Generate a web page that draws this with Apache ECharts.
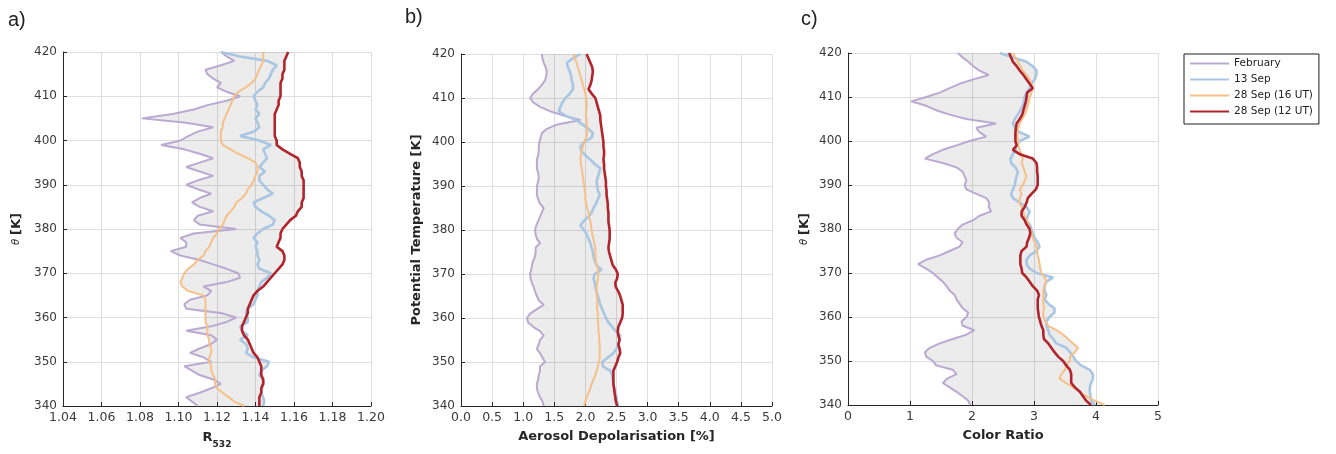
<!DOCTYPE html>
<html><head><meta charset="utf-8">
<script src="https://cdn.jsdelivr.net/npm/echarts@6/dist/echarts.min.js"></script>
<style>html,body{margin:0;padding:0;background:#fff}#c{width:1336px;height:454px}</style>
</head><body><div id="c"></div>
<script>
const theta = [340,341,342,343,344,345,346,347,348,349,
  350,351,352,353,354,355,356,357,358,359,
  360,361,362,363,364,365,366,367,368,369,
  370,371,372,373,374,375,376,377,378,379,
  380,381,382,383,384,385,386,387,388,389,
  390,391,392,393,394,395,396,397,398,399,
  400,401,402,403,404,405,406,407,408,409,
  410,411,412,413,414,415,416,417,418,419,420];

const seriesNames = ['February','13 Sep','28 Sep (16 UT)','28 Sep (12 UT)'];

// Panel a: R532
const aFeb = [1.110,1.107,1.104,1.111,1.117,1.122,1.118,1.111,1.107,1.103,
  1.117,1.113,1.106,1.111,1.117,1.120,1.117,1.104,1.117,1.125,
  1.130,1.122,1.104,1.103,1.106,1.115,1.117,1.113,1.125,1.132,
  1.131,1.125,1.118,1.111,1.101,1.096,1.104,1.104,1.101,1.108,
  1.130,1.111,1.108,1.110,1.118,1.111,1.107,1.111,1.117,1.110,
  1.104,1.110,1.118,1.111,1.104,1.111,1.118,1.111,1.103,1.091,
  1.101,1.105,1.110,1.118,1.104,1.081,1.097,1.108,1.115,1.125,
  1.132,1.125,1.120,1.122,1.118,1.115,1.114,1.122,1.129,1.125,1.122];
const aSep13 = [1.144,1.1445,1.144,1.143,1.143,1.144,1.144,1.142,1.143,1.146,
  1.147,1.139,1.135,1.136,1.135,1.132,1.136,1.133,1.132,1.136,
  1.136,1.135,1.136,1.139,1.140,1.141,1.141,1.142,1.143,1.146,
  1.148,1.142,1.141,1.142,1.141,1.141,1.140,1.141,1.139,1.141,
  1.144,1.149,1.150,1.147,1.143,1.140,1.139,1.144,1.149,1.146,
  1.144,1.142,1.142,1.145,1.142,1.144,1.146,1.145,1.144,1.148,
  1.142,1.132,1.139,1.142,1.141,1.140,1.142,1.140,1.141,1.140,
  1.139,1.141,1.144,1.145,1.147,1.148,1.149,1.151,1.146,1.132,1.122];
const aSep28a = [1.134,1.129,1.126,1.123,1.120,1.119,1.119,1.118,1.117,1.117,
  1.116,1.116,1.117,1.117,1.116,1.116,1.115,1.115,1.115,1.114,
  1.114,1.114,1.114,1.114,1.114,1.113,1.105,1.102,1.101,1.102,
  1.103,1.105,1.108,1.110,1.113,1.114,1.116,1.117,1.118,1.120,
  1.121,1.123,1.124,1.125,1.127,1.129,1.130,1.133,1.135,1.136,
  1.138,1.139,1.140,1.141,1.141,1.140,1.136,1.131,1.127,1.123,
  1.122,1.122,1.122,1.123,1.123,1.124,1.125,1.126,1.127,1.128,
  1.129,1.131,1.135,1.138,1.140,1.141,1.142,1.143,1.144,1.144,1.144];
const aSep28b = [1.142,1.142,1.142,1.143,1.143,1.144,1.144,1.143,1.143,1.143,
  1.142,1.141,1.139,1.138,1.137,1.136,1.134,1.133,1.133,1.134,
  1.135,1.136,1.136,1.137,1.138,1.139,1.141,1.144,1.146,1.148,
  1.150,1.152,1.154,1.155,1.155,1.154,1.151,1.152,1.153,1.153,
  1.154,1.156,1.158,1.161,1.162,1.164,1.164,1.165,1.165,1.165,
  1.165,1.165,1.164,1.164,1.163,1.163,1.162,1.158,1.154,1.151,
  1.151,1.150,1.150,1.150,1.150,1.150,1.150,1.151,1.152,1.152,
  1.153,1.153,1.153,1.153,1.154,1.154,1.155,1.155,1.155,1.156,1.157];

// Panel b: aerosol depolarisation [%]
const bFeb = [1.33,1.31,1.27,1.24,1.22,1.22,1.24,1.25,1.27,1.27,
  1.35,1.31,1.27,1.22,1.25,1.27,1.33,1.27,1.16,1.08,
  1.06,1.11,1.22,1.33,1.25,1.22,1.19,1.17,1.14,1.12,
  1.11,1.13,1.14,1.16,1.19,1.20,1.20,1.27,1.22,1.20,
  1.19,1.21,1.24,1.27,1.30,1.33,1.27,1.24,1.22,1.22,
  1.22,1.24,1.25,1.24,1.22,1.22,1.22,1.24,1.25,1.25,
  1.26,1.28,1.30,1.38,1.55,1.92,1.65,1.43,1.27,1.16,
  1.11,1.16,1.24,1.30,1.35,1.37,1.38,1.36,1.33,1.31,1.30];
const bSep13 = [2.53,2.51,2.50,2.48,2.47,2.45,2.44,2.43,2.40,2.28,
  2.27,2.36,2.45,2.50,2.53,2.55,2.56,2.49,2.43,2.37,
  2.33,2.30,2.27,2.24,2.22,2.20,2.18,2.16,2.15,2.13,
  2.15,2.26,2.18,2.15,2.13,2.12,2.10,2.08,2.05,2.02,
  1.98,1.92,1.97,2.05,2.10,2.13,2.17,2.20,2.23,2.20,
  2.19,2.18,2.20,2.22,2.24,2.15,2.08,2.00,1.93,1.92,
  1.98,2.10,2.12,2.05,1.95,1.85,1.68,1.57,1.60,1.63,
  1.68,1.75,1.80,1.80,1.78,1.77,1.75,1.72,1.70,1.80,1.92];
const bSep28a = [1.98,2.00,2.02,2.05,2.08,2.10,2.13,2.16,2.18,2.20,
  2.22,2.23,2.23,2.23,2.23,2.22,2.22,2.21,2.21,2.20,
  2.20,2.20,2.19,2.19,2.19,2.18,2.18,2.18,2.19,2.20,
  2.21,2.20,2.18,2.17,2.16,2.16,2.16,2.14,2.13,2.11,
  2.10,2.09,2.08,2.06,2.05,2.03,2.01,2.00,2.00,1.99,
  1.98,1.97,1.96,1.95,1.94,1.93,1.92,1.93,1.94,1.96,
  1.98,2.01,2.03,2.03,2.02,2.02,2.01,2.01,2.02,2.02,
  2.01,2.00,1.98,1.96,1.94,1.92,1.90,1.88,1.86,1.83,1.81];
const bSep28b = [2.51,2.49,2.48,2.47,2.46,2.45,2.45,2.45,2.45,2.48,
  2.51,2.53,2.56,2.55,2.53,2.55,2.53,2.52,2.53,2.56,
  2.59,2.60,2.60,2.60,2.58,2.56,2.53,2.49,2.48,2.51,
  2.52,2.49,2.44,2.42,2.40,2.38,2.37,2.38,2.39,2.39,
  2.39,2.38,2.37,2.37,2.37,2.36,2.36,2.35,2.34,2.34,
  2.33,2.33,2.32,2.31,2.30,2.30,2.29,2.30,2.30,2.29,
  2.29,2.28,2.27,2.26,2.25,2.24,2.24,2.22,2.20,2.18,
  2.16,2.10,2.05,2.08,2.10,2.11,2.12,2.11,2.08,2.05,2.02];

// Panel c: colour ratio
const cFeb = [1.97,1.94,1.85,1.75,1.64,1.53,1.60,1.75,1.69,1.42,
  1.37,1.26,1.24,1.32,1.48,1.69,1.91,2.04,1.85,1.83,
  1.91,1.94,1.85,1.80,1.75,1.72,1.64,1.59,1.53,1.45,
  1.37,1.26,1.13,1.26,1.48,1.64,1.80,1.85,1.75,1.72,
  1.77,1.85,2.02,2.12,2.31,2.27,2.28,2.23,2.07,1.91,
  1.88,1.91,1.88,1.85,1.75,1.53,1.24,1.37,1.53,1.75,
  1.96,2.23,2.12,2.07,2.39,1.91,1.64,1.42,1.26,1.02,
  1.26,1.48,1.64,1.80,2.02,2.27,2.12,2.02,1.94,1.85,1.77];
const cSep13 = [3.98,3.92,3.91,3.90,3.90,3.92,3.95,3.95,3.90,3.76,
  3.68,3.63,3.58,3.52,3.36,3.31,3.25,3.23,3.20,3.20,
  3.25,3.33,3.33,3.23,3.17,3.20,3.17,3.17,3.20,3.31,
  3.04,2.93,2.88,2.88,2.93,3.04,3.09,3.06,3.01,2.98,
  2.96,2.93,2.88,2.90,2.93,2.88,2.77,2.66,2.63,2.66,
  2.69,2.70,2.72,2.74,2.70,2.63,2.62,2.66,2.70,2.72,
  2.77,2.93,2.77,2.69,2.66,2.69,2.74,2.78,2.82,2.84,
  2.85,2.88,2.93,2.96,3.01,3.04,3.04,2.98,2.88,2.66,2.45];
const cSep28a = [4.14,3.98,3.84,3.74,3.63,3.52,3.41,3.44,3.50,3.52,
  3.58,3.58,3.66,3.71,3.63,3.55,3.47,3.36,3.23,3.18,
  3.15,3.15,3.16,3.15,3.15,3.15,3.15,3.17,3.20,3.17,
  3.12,3.10,3.09,3.08,3.06,3.05,3.04,3.01,2.98,2.96,
  2.94,2.91,2.88,2.85,2.82,2.80,2.76,2.77,2.80,2.77,
  2.82,2.85,2.88,2.85,2.83,2.80,2.82,2.80,2.77,2.75,
  2.74,2.73,2.73,2.75,2.77,2.81,2.85,2.88,2.90,2.92,
  2.93,2.96,2.98,2.96,2.93,2.88,2.82,2.78,2.74,2.70,2.66];
const cSep28b = [3.92,3.84,3.79,3.74,3.66,3.60,3.60,3.60,3.58,3.52,
  3.47,3.39,3.33,3.28,3.23,3.16,3.15,3.15,3.12,3.10,
  3.08,3.07,3.06,3.06,3.06,3.08,3.05,2.98,2.93,2.88,
  2.81,2.80,2.78,2.78,2.78,2.80,2.88,2.89,2.92,2.94,
  2.93,2.88,2.85,2.80,2.80,2.85,2.88,2.90,2.96,3.03,
  3.06,3.06,3.06,3.05,3.05,3.04,2.98,2.77,2.66,2.72,
  2.70,2.70,2.70,2.71,2.72,2.77,2.81,2.83,2.85,2.87,
  2.88,2.89,2.98,2.93,2.88,2.83,2.77,2.72,2.66,2.63,2.60];

const xTicksA = [1.04, 1.20, 0.02];
const xTicksB = [0, 5, 0.5];
const xTicksC = [0, 5, 1];
const yTicks = [340, 420, 10];

const panels = [
  {sets:[aFeb,aSep13,aSep28a,aSep28b], x:xTicksA, dec:2, xname:'{r|R}{s|532}', yname:'{t|θ} {b|[K]}'},
  {sets:[bFeb,bSep13,bSep28a,bSep28b], x:xTicksB, dec:1, xname:'{r|Aerosol Depolarisation [%]}', yname:'{b|Potential Temperature [K]}'},
  {sets:[cFeb,cSep13,cSep28a,cSep28b], x:xTicksC, dec:0, xname:'{r|Color Ratio}', yname:'{t|θ} {b|[K]}'}
];
const colors = ['#baa9d0','#a9c6e3','#f6c088','#b1242b'];
const widths = [2, 2.6, 2, 2.6];
const grids = [
  {left:63, top:52, width:308, height:354},
  {left:461, top:54, width:311, height:352},
  {left:848, top:53, width:310, height:352}
];
const xGaps = [25, 24, 24];
const yGaps = [40, 38, 37];
const FONT = 'DejaVu Sans';

const xAxis = [], yAxis = [], series = [];
panels.forEach((p, g) => {
  xAxis.push({
    type:'value', gridIndex:g, min:p.x[0], max:p.x[1], interval:p.x[2],
    axisLine:{show:true, onZero:false, lineStyle:{color:'#262626', width:1}},
    axisTick:{show:true, inside:true, length:4, lineStyle:{color:'#262626'}},
    axisLabel:{color:'#3a3a3a', fontSize:12.5, fontFamily:FONT, margin:5,
      formatter:v => v.toFixed(p.dec)},
    splitLine:{show:true, lineStyle:{color:'#dedede', width:1}},
    name:p.xname, nameLocation:'middle', nameGap:xGaps[g],
    nameTextStyle:{fontFamily:FONT, color:'#262626', rich:{
      r:{fontSize:13, fontWeight:'bold', fontFamily:FONT, color:'#262626', lineHeight:18, verticalAlign:'top'},
      s:{fontSize:9, fontWeight:'bold', fontFamily:FONT, color:'#262626', lineHeight:10, verticalAlign:'bottom'}
    }}
  });
  yAxis.push({
    type:'value', gridIndex:g, min:yTicks[0], max:yTicks[1], interval:yTicks[2],
    axisLine:{show:true, onZero:false, lineStyle:{color:'#262626', width:1}},
    axisTick:{show:true, inside:true, length:4, lineStyle:{color:'#262626'}},
    axisLabel:{color:'#3a3a3a', fontSize:12, fontFamily:FONT, margin:6},
    splitLine:{show:true, lineStyle:{color:'#dedede', width:1}},
    name:p.yname, nameLocation:'middle', nameGap:yGaps[g], nameRotate:90,
    nameTextStyle:{fontFamily:FONT, color:'#262626', rich:{
      t:{fontSize:10, fontStyle:'italic', fontFamily:FONT, color:'#262626'},
      b:{fontSize:13, fontWeight:'bold', fontFamily:FONT, color:'#262626'}
    }}
  });
  // shaded envelope between min and max of the profiles
  const lo = theta.map((t,i) => Math.min(...p.sets.map(a => a[i])));
  const hi = theta.map((t,i) => Math.max(...p.sets.map(a => a[i])));
  series.push({
    type:'custom', xAxisIndex:g, yAxisIndex:g, silent:true, z:1, clip:true,
    data:[[p.x[0], yTicks[0]]],
    renderItem:(params, api) => {
      const pts = [];
      for (let i = 0; i < theta.length; i++) pts.push(api.coord([lo[i], theta[i]]));
      for (let i = theta.length - 1; i >= 0; i--) pts.push(api.coord([hi[i], theta[i]]));
      return {type:'polygon', shape:{points:pts}, style:{fill:'rgba(0,0,0,0.075)', stroke:null}};
    }
  });
  p.sets.forEach((arr, k) => {
    series.push({
      type:'line', name:seriesNames[k], xAxisIndex:g, yAxisIndex:g,
      data:theta.map((t,i) => [arr[i], t]),
      symbol:'none', z:3+k,
      lineStyle:{color:colors[k], width:widths[k]},
      itemStyle:{color:colors[k]}
    });
  });
});

const chart = echarts.init(document.getElementById('c'), null, {renderer:'canvas'});
chart.setOption({
  animation:false,
  backgroundColor:'#ffffff',
  grid:grids.map(g => Object.assign({containLabel:false}, g)),
  xAxis, yAxis, series,
  legend:{
    data:seriesNames, orient:'vertical', left:1184, top:54,
    itemWidth:39, itemHeight:10, itemGap:5, padding:[4,6,7,5],
    borderColor:'#1e1e1e', borderWidth:1, borderRadius:0, selectedMode:false,
    itemStyle:{opacity:0},
    lineStyle:{width:2.2},
    textStyle:{fontSize:10.5, fontFamily:FONT, color:'#222'}
  },
  graphic:[
    {type:'text', left:8, top:10, style:{text:'a)', font:'20px "Liberation Sans"', fill:'#222'}},
    {type:'text', left:405, top:7, style:{text:'b)', font:'20px "Liberation Sans"', fill:'#222'}},
    {type:'text', left:801, top:9, style:{text:'c)', font:'20px "Liberation Sans"', fill:'#222'}}
  ]
});
</script>
</body></html>
